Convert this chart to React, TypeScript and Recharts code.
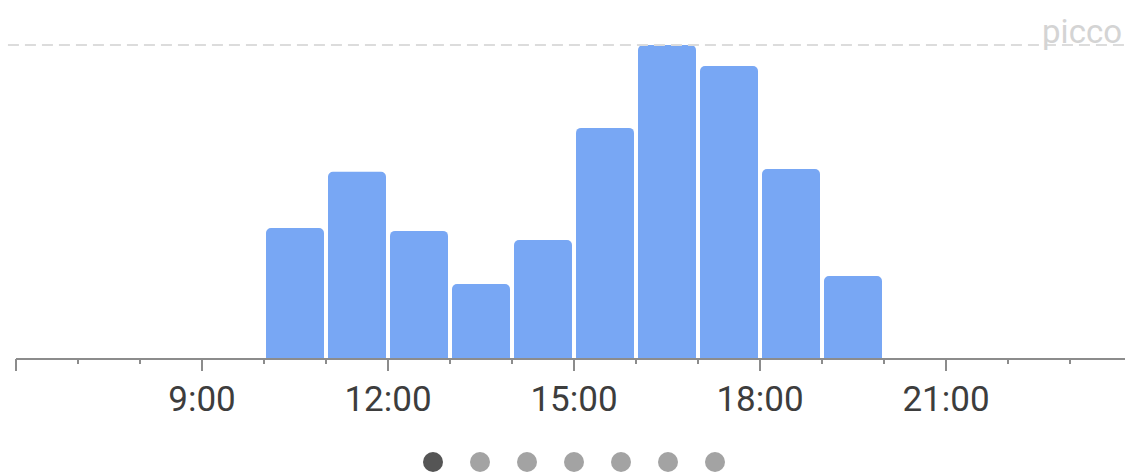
import React from "react";
import { BarChart, Bar, XAxis, YAxis, ReferenceLine } from "recharts";

/* popular times, one bar per hour (bar covers hour -> hour+1) */
const HOURS = [10, 11, 12, 13, 14, 15, 16, 17, 18, 19];
const BUSY = [41.7, 59.6, 40.8, 23.9, 37.9, 73.6, 100, 93.3, 60.5, 26.4];

const TICK_HOURS = [6, 7, 8, 9, 10, 11, 12, 13, 14, 15, 16, 17, 18, 19, 20, 21, 22, 23];
const LABEL_HOURS = [9, 12, 15, 18, 21];

const DAYS = ["lun", "mar", "mer", "gio", "ven", "sab", "dom"];
const ACTIVE_DAY = 0;

const data = HOURS.map((h, i) => ({ mid: h + 0.5, busy: BUSY[i] }));

const AXIS = "#8c8c8c";

function HourTick(props: any) {
  const { x, y, payload } = props;
  const h = payload.value as number;
  const major = h % 3 === 0;
  return (
    <g>
      <line x1={x} y1={y} x2={x} y2={y + (major ? 12 : 5)} stroke={AXIS} strokeWidth={2} />
      {LABEL_HOURS.includes(h) && (
        <text
          x={x}
          y={y + 52}
          textAnchor="middle"
          fontSize={35}
          fontFamily="Roboto, 'Noto Sans', sans-serif"
          fill="#3d3d3d"
        >
          {`${h}:00`}
        </text>
      )}
    </g>
  );
}

export default function App() {
  return (
    <div style={{ position: "absolute", left: 0, top: 0, width: 1125, height: 472, background: "#fff", overflow: "hidden" }}>
      <BarChart width={1125} height={472} data={data} margin={{ top: 45, right: -7, bottom: 0, left: 16 }}>
        <XAxis
          dataKey="mid"
          type="number"
          domain={[6, 24]}
          ticks={TICK_HOURS}
          interval={0}
          allowDataOverflow
          height={113}
          tickSize={0}
          tickMargin={0}
          tickLine={false}
          axisLine={{ stroke: AXIS, strokeWidth: 2 }}
          tick={<HourTick />}
        />
        <YAxis hide domain={[0, 100]} />
        <ReferenceLine
          segment={[{ x: 5.87, y: 100 }, { x: 24, y: 100 }]}
          ifOverflow="visible"
          stroke="#dcdcdc"
          strokeWidth={2}
          strokeDasharray="11 6"
        />
        <Bar dataKey="busy" fill="#78a7f4" barSize={58} radius={[5, 5, 0, 0]} isAnimationActive={false} />
      </BarChart>
      <div
        style={{
          position: "absolute",
          right: 3,
          top: 15,
          fontFamily: "Roboto, sans-serif",
          fontSize: 33,
          color: "#d4d4d4",
          lineHeight: "33px",
        }}
      >
        picco
      </div>
      <div style={{ position: "absolute", left: 423, top: 452, display: "flex", gap: 27 }}>
        {DAYS.map((d, i) => (
          <div
            key={d}
            title={d}
            style={{
              width: 20,
              height: 20,
              borderRadius: 10,
              background: i === ACTIVE_DAY ? "#555" : "#a3a3a3",
            }}
          />
        ))}
      </div>
    </div>
  );
}
